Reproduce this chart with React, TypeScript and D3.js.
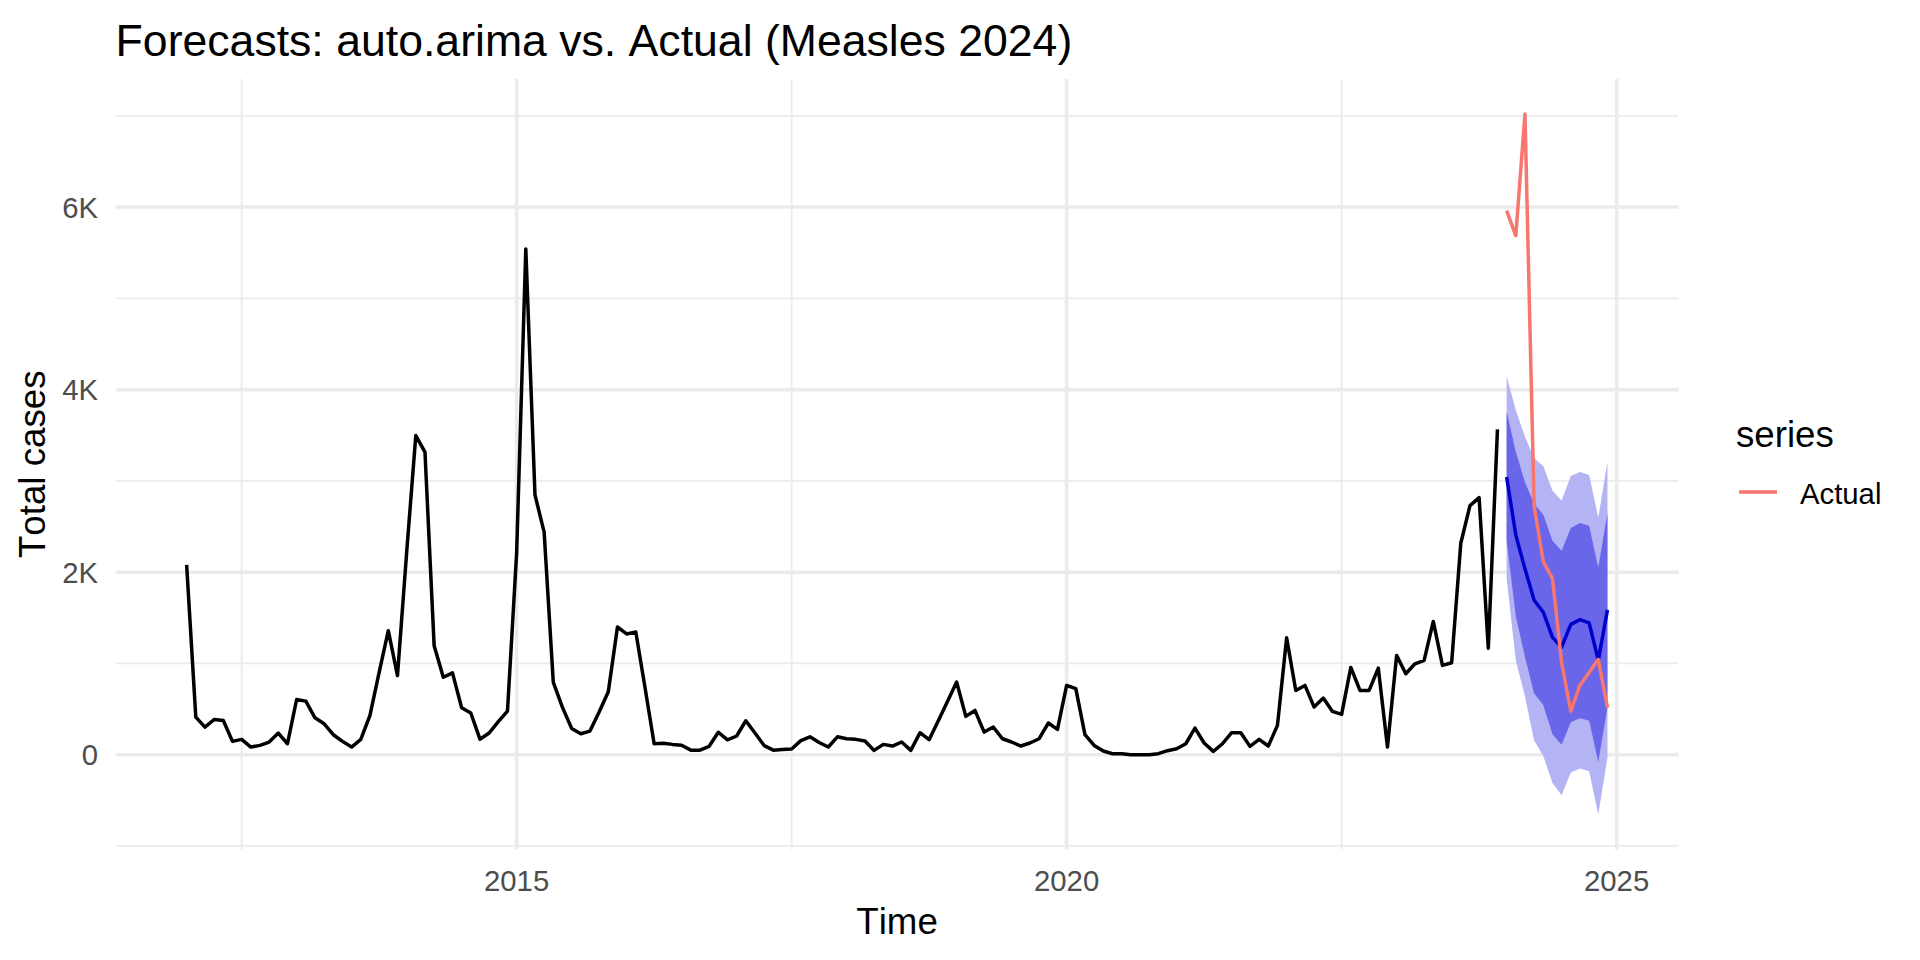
import React from 'react';
import * as d3 from 'd3';

// ---------- DATA ----------
const startYear = 2012; // monthly series starts Jan 2012
const observed2012 = [2080, 412, 302, 386, 375, 146, 168, 84, 102, 138, 237, 120];
const observed2013 = [605, 587, 404, 339, 219, 146, 84, 168, 430, 903, 1359, 867];
const observed2014 = [2215, 3497, 3315, 1195, 849, 896, 515, 457, 170, 238, 363, 477];
const observed2015 = [2210, 5540, 2847, 2438, 793, 518, 288, 230, 259, 468, 689, 1399];
const observed2016 = [1323, 1344, 739, 121, 125, 113, 104, 50, 50, 92, 246, 163];
const observed2017 = [205, 372, 238, 100, 50, 58, 63, 154, 196, 134, 84, 196];
const observed2018 = [175, 168, 150, 47, 113, 95, 139, 47, 241, 164, 372, 584];
const observed2019 = [796, 420, 485, 248, 303, 175, 139, 95, 128, 175, 347, 277];
const observed2020 = [759, 723, 219, 102, 40, 11, 11, 0, 0, 0, 11, 44];
const observed2021 = [66, 120, 292, 128, 36, 120, 241, 241, 91, 168, 95, 321];
const observed2022 = [1281, 704, 759, 522, 620, 474, 442, 956, 704, 704, 949, 84];
const observed2023 = [1088, 887, 996, 1033, 1460, 978, 1007, 2317, 2729, 2817, 1167, 3565];

const forecastStartYear = 2024;
const forecastMean = [3042, 2407, 2037, 1693, 1561, 1285, 1178, 1428, 1480, 1445, 1035, 1587];
const upper80 = [3760, 3320, 2985, 2750, 2630, 2345, 2236, 2484, 2538, 2510, 2050, 2652];
const lower80 = [2345, 1520, 1070, 670, 545, 225, 110, 355, 400, 372, -80, 518];
const upper95 = [4150, 3777, 3484, 3247, 3163, 2893, 2784, 3054, 3098, 3065, 2598, 3211];
const lower95 = [1931, 1032, 640, 155, -15, -310, -445, -195, -150, -180, -655, -30];
const actual2024 = [5962, 5687, 7020, 2724, 2116, 1931, 1008, 476, 762, 900, 1045, 516];

const yMajorTicks = [0, 2000, 4000, 6000];
const yMajorLabels = ['0', '2K', '4K', '6K'];
const yMinorTicks = [-1000, 1000, 3000, 5000, 7000];
const xMajorTicks = [2015, 2020, 2025];
const xMajorLabels = ['2015', '2020', '2025'];
const xMinorTicks = [2012.5, 2017.5, 2022.5];

const titleText = 'Forecasts: auto.arima vs. Actual (Measles 2024)';
const xTitle = 'Time';
const yTitle = 'Total cases';
const legendTitle = 'series';
const legendLabels = ['Actual'];

// ---------- LAYOUT ----------
const W = 1920;
const H = 960;
const panel = { left: 115.6, right: 1678.5, top: 79, bottom: 849.5 };
const FONT = '"Liberation Sans", Arial, Helvetica, sans-serif';
const GRID = '#EBEBEB';

type Pt = { t: number; v: number };
type Band = { t: number; lo: number; hi: number };

const observed: number[] = [
  ...observed2012, ...observed2013, ...observed2014, ...observed2015,
  ...observed2016, ...observed2017, ...observed2018, ...observed2019,
  ...observed2020, ...observed2021, ...observed2022, ...observed2023,
];

const obsPts: Pt[] = observed.map((v, i) => ({ t: startYear + i / 12, v }));
const fcPts: Pt[] = forecastMean.map((v, i) => ({ t: forecastStartYear + i / 12, v }));
const actPts: Pt[] = actual2024.map((v, i) => ({ t: forecastStartYear + i / 12, v }));
const band80: Band[] = lower80.map((lo, i) => ({ t: forecastStartYear + i / 12, lo, hi: upper80[i] }));
const band95: Band[] = lower95.map((lo, i) => ({ t: forecastStartYear + i / 12, lo, hi: upper95[i] }));

function expand(ext: [number, number], mult = 0.05): [number, number] {
  const r = ext[1] - ext[0];
  return [ext[0] - r * mult, ext[1] + r * mult];
}

export default function App() {
  const allT = [...obsPts.map(d => d.t), ...fcPts.map(d => d.t)];
  const allV = [...observed, ...actual2024, ...upper95, ...lower95, ...forecastMean];
  const x = d3.scaleLinear()
    .domain(expand(d3.extent(allT) as [number, number]))
    .range([panel.left, panel.right]);
  const y = d3.scaleLinear()
    .domain(expand(d3.extent(allV) as [number, number]))
    .range([panel.bottom, panel.top]);

  const line = d3.line<Pt>().x(d => x(d.t)).y(d => y(d.v));
  const area = d3.area<Band>().x(d => x(d.t)).y0(d => y(d.lo)).y1(d => y(d.hi));

  const legendX = 1736;

  return (
    <svg width={W} height={H} viewBox={`0 0 ${W} ${H}`}
      style={{ position: 'absolute', left: 0, top: 0, display: 'block', background: '#fff', fontKerning: 'none' }}
      fontFamily={FONT}>
      <rect x={0} y={0} width={W} height={H} fill="#fff" />
      {/* minor grid */}
      {yMinorTicks.map(t => (
        <line key={'ym' + t} x1={panel.left} x2={panel.right} y1={y(t)} y2={y(t)} stroke={GRID} strokeWidth={1.8} />
      ))}
      {xMinorTicks.map(t => (
        <line key={'xm' + t} x1={x(t)} x2={x(t)} y1={panel.top} y2={panel.bottom} stroke={GRID} strokeWidth={1.8} />
      ))}
      {/* major grid */}
      {yMajorTicks.map(t => (
        <line key={'yM' + t} x1={panel.left} x2={panel.right} y1={y(t)} y2={y(t)} stroke={GRID} strokeWidth={3.5} />
      ))}
      {xMajorTicks.map(t => (
        <line key={'xM' + t} x1={x(t)} x2={x(t)} y1={panel.top} y2={panel.bottom} stroke={GRID} strokeWidth={3.5} />
      ))}

      {/* observed series */}
      <path d={line(obsPts) || ''} fill="none" stroke="#000" strokeWidth={3.5} strokeLinejoin="round" />

      {/* forecast intervals */}
      <path d={area(band95) || ''} fill="#B4B4F5" stroke="none" />
      <path d={area(band80) || ''} fill="#6A66EA" stroke="none" />
      <path d={line(fcPts) || ''} fill="none" stroke="#0000CC" strokeWidth={3.5} strokeLinejoin="round" />

      {/* actual */}
      <path d={line(actPts) || ''} fill="none" stroke="#F8766D" strokeWidth={3.5} strokeLinejoin="round" />

      {/* y axis labels */}
      {yMajorTicks.map((t, i) => (
        <text key={'yl' + t} x={98} y={y(t)} dy="0.36em" textAnchor="end" fontSize={29.3} fill="#4D4D4D">
          {yMajorLabels[i]}
        </text>
      ))}
      {/* x axis labels */}
      {xMajorTicks.map((t, i) => (
        <text key={'xl' + t} x={x(t)} y={891} textAnchor="middle" fontSize={29.3} fill="#4D4D4D">
          {xMajorLabels[i]}
        </text>
      ))}

      {/* titles */}
      <text x={panel.left} y={56} fontSize={44.6} fill="#000">{titleText}</text>
      <text x={(panel.left + panel.right) / 2} y={934} textAnchor="middle" fontSize={36.7} fill="#000">{xTitle}</text>
      <text transform={`translate(45, ${(panel.top + panel.bottom) / 2}) rotate(-90)`} textAnchor="middle" fontSize={36.7} fill="#000">
        {yTitle}
      </text>

      {/* legend */}
      <text x={legendX} y={447} fontSize={36.7} fill="#000">{legendTitle}</text>
      <line x1={1739} x2={1777} y1={492} y2={492} stroke="#F8766D" strokeWidth={3.5} />
      <text x={1800} y={504} fontSize={29.3} fill="#000">{legendLabels[0]}</text>
    </svg>
  );
}
